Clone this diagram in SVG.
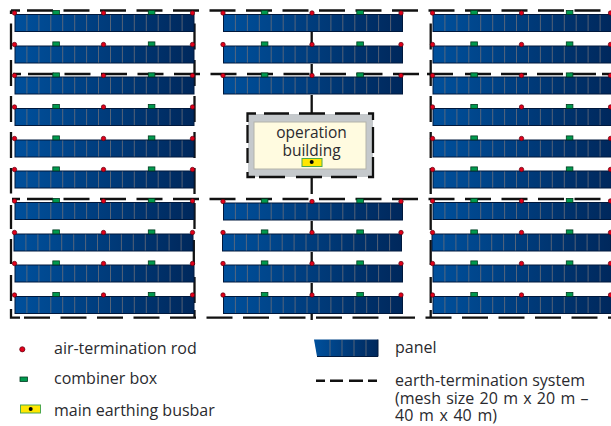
<svg xmlns="http://www.w3.org/2000/svg" width="611" height="426" viewBox="0 0 611 426">
<defs>
<linearGradient id="pg"><stop offset="0" stop-color="#00509c"/><stop offset="1" stop-color="#00285c"/></linearGradient>
<g id="panel"><rect x="0.5" y="0" width="179" height="17" fill="url(#pg)" stroke="#00183c" stroke-width="1"/><path d="M12.400 0.500V16.500M24.400 0.500V16.500M36.300 0.500V16.500M48.200 0.500V16.500M60.200 0.500V16.500M72.100 0.500V16.500M84 0.500V16.500M96 0.500V16.500M107.900 0.500V16.500M119.800 0.500V16.500M131.800 0.500V16.500M143.700 0.500V16.500M155.600 0.500V16.500M167.600 0.500V16.500" stroke="#6b6f78" stroke-width="0.800" fill="none"/></g>
<g id="marks"><circle class="rod" cx="0" cy="0" r="2.200"/><circle class="rod" cx="89" cy="0" r="2.200"/><circle class="rod" cx="178" cy="0" r="2.200"/><rect class="box" x="38.300" y="-2.600" width="6.600" height="4"/><rect class="box" x="133.800" y="-2.600" width="6.600" height="4"/></g>
<g id="row"><use href="#panel" x="0" y="1.500"/><use href="#marks"/></g>
<g id="rowb"><use href="#panel" x="-1" y="1.500"/><use href="#marks"/></g>
</defs>
<style>
.rod{fill:#e2001a;stroke:#5a0010;stroke-width:.7}
.box{fill:#009a4e;stroke:#003a20;stroke-width:.8}
.e{fill:none;stroke:#111;stroke-width:2.300;stroke-dasharray:26 10.500}
.s{fill:none;stroke:#111;stroke-width:2.300}
text{font-family:"Open Sans","Noto Sans",sans-serif;font-size:16px;fill:#2a2a2e}
</style>
<g id="connectors">
<path class="e" d="M27 10.500H611M28 74H419M27 199H611M24 317.700H611"/>
<path class="s" d="M427 74H453M465 74H491M501 74H527M537 74H563M570 74H596M602 74H611M11 10.500H20M11 10.500V14M13 74H21M12 199H20"/>
<path class="s" d="M11 23.500V49.500M11 60V86M11 96V122M11 132V158M11 168V193.500M11 205V229M11 239V264M11 275V301M11 309V317.700H20"/>
<path class="s" d="M194.500 23.500V49.500M194.500 60V86M194.500 96V122M194.500 132V158M194.500 168V194M194.500 203V229M193.800 240V265M194.500 277V303M194.500 310V317.700"/>
<path class="s" d="M430.700 23.500V49.500M430.700 60V86M430.700 96V122M430.700 132V158M430.700 168V194M430.700 204V230M430.700 240V265M430.700 277V303M430.700 310V318"/>
<path class="s" d="M311.700 32V46M311.700 64V75M311.700 95V113M311.700 162V194M311.700 221V234M311.700 252V265M311.700 283V296M311.700 314V320"/>
</g>
<g id="building">
<rect x="248" y="114" width="125" height="63" fill="#c5c9cc"/>
<rect x="254" y="122" width="112" height="47" fill="#fffbe0" stroke="#b4b4aa"/>
<path class="s" d="M247.500 122V113.500H256M264 113.500H289M299 113.500H325M335 113.500H360M368 113.500H373V120M373 127V153M373 157V177H368M357 177H331M322 177H296M285 177H259M255 177H247.500V172M247.500 163V148M247.500 143V125"/>
<text x="311.500" y="137.500" text-anchor="middle" style="font-size:15.500px"><tspan x="311.500">operation</tspan><tspan x="311.500" dy="18.500">building</tspan></text>
<rect x="302" y="158.500" width="20" height="8" fill="#ffe600" stroke="#4da84d"/>
<circle cx="311.700" cy="162" r="2"/>
</g>
<g id="panels-left"><use href="#row" x="14.500" y="13"/><use href="#row" x="14.500" y="44.500"/><use href="#row" x="14.500" y="75.500"/><use href="#row" x="14.500" y="107"/><use href="#row" x="14.500" y="138.500"/><use href="#row" x="14.500" y="169.500"/><use href="#row" x="14.500" y="201"/><use href="#rowb" x="14.500" y="232.500"/><use href="#row" x="14.500" y="263.500"/><use href="#row" x="14.500" y="295"/></g>
<g id="panels-mid"><use href="#row" x="223" y="13"/><use href="#row" x="223" y="44.500"/><use href="#row" x="223" y="75.500"/><use href="#row" x="223" y="201.500"/><use href="#rowb" x="223" y="232.500"/><use href="#row" x="223" y="263.500"/><use href="#row" x="223" y="295"/></g>
<g id="panels-right"><use href="#row" x="432.500" y="13"/><use href="#row" x="432.500" y="44.500"/><use href="#row" x="432.500" y="75.500"/><use href="#row" x="432.500" y="107"/><use href="#row" x="432.500" y="138.500"/><use href="#row" x="432.500" y="169.500"/><use href="#row" x="432.500" y="201"/><use href="#rowb" x="432.500" y="232.500"/><use href="#row" x="432.500" y="263.500"/><use href="#row" x="432.500" y="295"/></g>
<g id="legend">
<circle class="rod" cx="22.300" cy="349.300" r="2.600"/>
<text x="54" y="354">air-termination rod</text>
<rect class="box" x="20" y="377" width="7.500" height="4.500"/>
<text x="54" y="384">combiner box</text>
<rect x="20.500" y="405" width="20" height="8" fill="#ffe600" stroke="#4da84d"/>
<circle cx="30.700" cy="409" r="2"/>
<text x="54" y="415.500">main earthing busbar</text>
<path d="M314 339.500H378V356.500H317Z" fill="url(#pg)"/>
<path d="M317 356.500H378V339.500" fill="none" stroke="#00183c"/>
<path d="M330 340V356M342 340V356M354 340V356M366 340V356" stroke="#6b6f78" stroke-width=".8"/>
<text x="395" y="353">panel</text>
<path class="s" style="stroke-width:2.500" d="M316 380.700H325M330 380.700H343M349 380.700H363M368 380.700H377"/>
<text x="395" y="385.500"><tspan x="395">earth-termination system</tspan><tspan x="395" dy="18.500" word-spacing="1.100">(mesh size 20 m x 20 m –</tspan><tspan x="395" dy="17" word-spacing="1.500">40 m x 40 m)</tspan></text>
</g>
</svg>
